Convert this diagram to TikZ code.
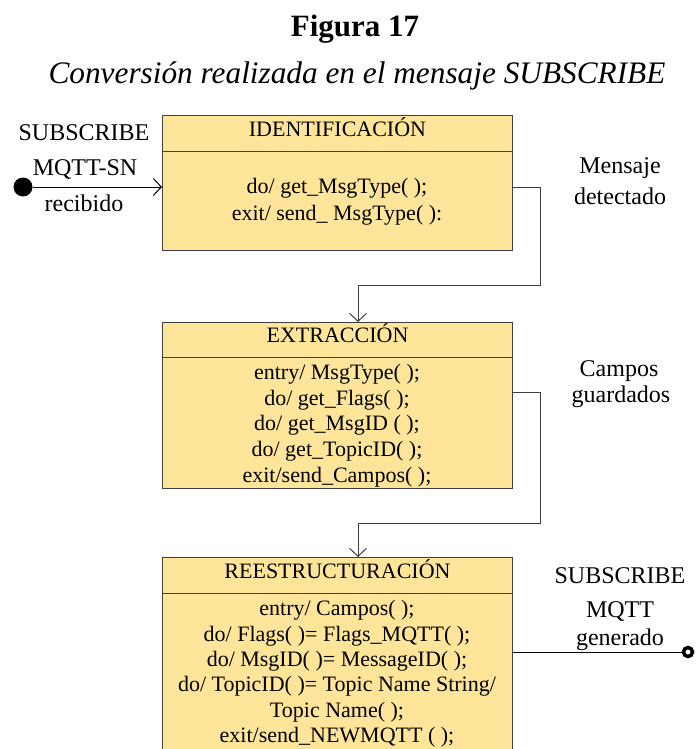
\documentclass[tikz,border=0pt]{standalone}
\usepackage{fontspec}
\setmainfont{Liberation Serif}
\usetikzlibrary{arrows.meta}
\definecolor{boxfill}{HTML}{FFE59A}
\definecolor{edge}{HTML}{404040}
\begin{document}
\begin{tikzpicture}[x=1pt,y=-1pt,
  hdr/.style={draw=edge, fill=boxfill, line width=1pt, minimum width=350pt, inner sep=0pt, anchor=north west, font=\fontsize{22}{26}\selectfont, text height=15pt, text depth=10pt},
  bodybox/.style={draw=edge, fill=boxfill, line width=1pt, minimum width=350pt, inner sep=0pt, anchor=north west},
  acts/.style={align=center, inner sep=0pt, font=\fontsize{22}{27}\selectfont},
  lbl/.style={anchor=base, inner sep=0pt, font=\fontsize{24}{28}\selectfont},
  conn/.style={draw=edge, line width=1pt},
  arr/.style={conn, -{Straight Barb[length=8pt,width=17pt,line width=1pt]}},
]
\useasboundingbox (0,0) rectangle (699,749);
\clip (0,0) rectangle (699,749);

% titles
\node[anchor=base, inner sep=0pt, font=\bfseries\fontsize{31}{36}\selectfont] (title) at (355,37) {Figura 17};
\node[anchor=base, inner sep=0pt, font=\itshape\fontsize{31.3}{36}\selectfont] (subtitle) at (357,84) {Conversión realizada en el mensaje SUBSCRIBE};

% box 1
\node[hdr, minimum height=36pt] (h1) at (162,115) {IDENTIFICACIÓN};
\node[bodybox, minimum height=99pt] (b1) at (162,151) {};
\node[acts] (t1) at (337,201.5) {do/ get\_MsgType( );\\exit/ send\_ MsgType( ):};

% box 2
\node[hdr, minimum height=35pt] (h2) at (162,322) {EXTRACCIÓN};
\node[bodybox, minimum height=131pt] (b2) at (162,357) {};
\node[acts, font=\fontsize{22}{25.7}\selectfont] (t2) at (337,425.5) {entry/ MsgType( );\\do/ get\_Flags( );\\do/ get\_MsgID ( );\\do/ get\_TopicID( );\\exit/send\_Campos( );};

% box 3
\node[hdr, minimum height=36pt] (h3) at (162,557) {REESTRUCTURACIÓN};
\node[bodybox, minimum height=170pt] (b3) at (162,593) {};
\node[acts, font=\fontsize{22}{25.4}\selectfont] (t3) at (337,674) {entry/ Campos( );\\do/ Flags( )= Flags\_MQTT( );\\do/ MsgID( )= MessageID( );\\do/ TopicID( )= Topic Name String/\\Topic Name( );\\exit/send\_NEWMQTT ( );};

% start and end
\node[circle, fill=black, minimum size=19pt, inner sep=0pt] (start) at (23,187) {};
\node[circle, draw=black, fill=white, line width=3.5pt, minimum size=9pt, inner sep=0pt] (end) at (688,652) {};

% connectors
\draw[arr, draw=black] (start) -- (start -| b1.west);

\coordinate (k1a) at (540,187);
\coordinate (k1b) at (540,285);
\coordinate (a2) at (358,285);
\draw[arr] (b1.east |- k1a) -- (k1a) -- (k1b) -- (a2) -- (a2 |- h2.north);

\coordinate (k2a) at (540,392);
\coordinate (k2b) at (540,523);
\coordinate (a3) at (358,523);
\draw[arr] (b2.east |- k2a) -- (k2a) -- (k2b) -- (a3) -- (a3 |- h3.north);

\draw[conn, draw=black] (end -| b3.east) -- (end);

% labels
\node[lbl] (l1) at (84,140) {SUBSCRIBE};
\node[lbl] (l2) at (85,175) {MQTT-SN};
\node[lbl] (l3) at (84,211) {recibido};
\node[lbl] (l4) at (620,173) {Mensaje};
\node[lbl] (l5) at (620,204) {detectado};
\node[lbl] (l6) at (619,376) {Campos};
\node[lbl] (l7) at (621,402) {guardados};
\node[lbl] (l8) at (620,583) {SUBSCRIBE};
\node[lbl] (l9) at (620,617) {MQTT};
\node[lbl] (l10) at (620,645) {generado};
\end{tikzpicture}
\end{document}
